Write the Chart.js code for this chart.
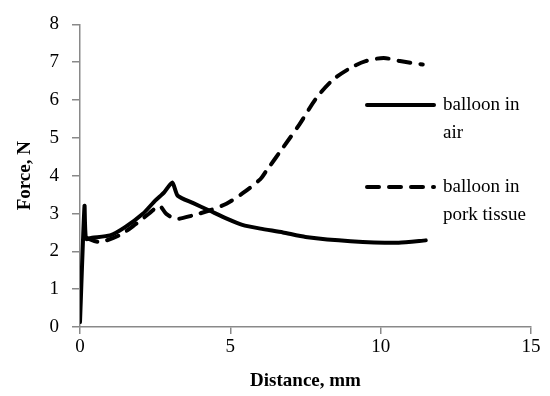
<!DOCTYPE html>
<html lang="en">
<head>
<meta charset="UTF-8">
<title>Force vs Distance</title>
<script src="https://cdn.jsdelivr.net/npm/chart.js"></script>
<style>
    html, body { margin: 0; padding: 0; background: #fff; }
    #wrap { width: 550px; height: 396px; }
</style>
</head>
<body>
<div id="wrap"><canvas id="myChart"></canvas></div>
<script>
// balloon in air
const airX = [0, 0.15, 0.2, 0.4, 1.0, 1.5, 2.1, 2.5, 2.8, 3.07, 3.25, 3.75, 4.3, 4.9, 5.4, 6.0, 6.75, 7.5, 9.0, 10.6, 11.5];
const airY = [0.13, 3.2, 2.33, 2.36, 2.42, 2.64, 3.0, 3.34, 3.56, 3.82, 3.47, 3.28, 3.08, 2.86, 2.7, 2.6, 2.5, 2.38, 2.27, 2.23, 2.29];
// balloon in pork tissue
const porkX = [0.2, 0.64, 1.3, 1.87, 2.3, 2.64, 2.87, 3.2, 3.75, 4.3, 4.87, 5.4, 6.0, 6.2, 6.75, 7.3, 7.87, 8.42, 9.0, 9.5, 10.1, 10.64, 11.4];
const porkY = [2.36, 2.25, 2.42, 2.73, 3.0, 3.2, 2.99, 2.86, 2.95, 3.08, 3.26, 3.53, 3.91, 4.13, 4.74, 5.36, 6.06, 6.54, 6.85, 7.03, 7.11, 7.03, 6.94];
const seriesLabels = [['balloon in', 'air'], ['balloon in', 'pork tissue']];

const toPoints = (xs, ys) => xs.map((x, i) => ({ x: x, y: ys[i] }));
const serif = "'Times New Roman', 'Liberation Serif', 'DejaVu Serif', serif";

// legend drawn at the right, with wrapped labels
const sideLegend = {
    id: 'sideLegend',
    afterDraw(chart) {
        const c = chart.ctx;
        const rows = [105, 187];
        chart.data.datasets.forEach((ds, i) => {
            const y = rows[i];
            c.save();
            c.strokeStyle = ds.borderColor;
            c.lineWidth = ds.borderWidth;
            c.lineCap = 'round';
            c.setLineDash(ds.borderDash || []);
            c.beginPath();
            c.moveTo(367, y);
            c.lineTo(434, y);
            c.stroke();
            c.setLineDash([]);
            c.fillStyle = '#000';
            c.font = '19px ' + serif;
            c.textBaseline = 'middle';
            c.textAlign = 'left';
            ds.label.forEach((t, k) => c.fillText(t, 443, y + k * 28));
            c.restore();
        });
    }
};

let ctx = document.getElementById('myChart').getContext('2d');
let myChart = new Chart(ctx, {
    type: 'line',
    data: {
        datasets: [{
            label: seriesLabels[0],
            data: toPoints(airX, airY),
            borderColor: '#000',
            borderWidth: 4,
            borderCapStyle: 'round',
            borderJoinStyle: 'round',
            pointRadius: 0,
            tension: 0.2
        }, {
            label: seriesLabels[1],
            data: toPoints(porkX, porkY),
            borderColor: '#000',
            borderWidth: 4,
            borderDash: [12, 10],
            borderCapStyle: 'round',
            pointRadius: 0,
            tension: 0.3
        }]
    },
    options: {
        responsive: true,
        maintainAspectRatio: false,
        animation: false,
        layout: { padding: { top: 23, right: 19, left: 0, bottom: 0 } },
        plugins: {
            legend: { display: false },
            tooltip: { enabled: false }
        },
        scales: {
            x: {
                type: 'linear',
                min: 0, max: 15,
                ticks: { stepSize: 5, color: '#000', font: { family: serif, size: 19 }, padding: 2 },
                grid: { drawOnChartArea: false, color: '#898989', tickLength: 7, lineWidth: 1.5 },
                border: { color: '#898989', width: 1.5 },
                title: { display: true, text: 'Distance, mm', color: '#000', font: { family: serif, size: 19, weight: 'bold' }, padding: { top: 0 } },
                afterFit(s) { s.height = 69; }
            },
            y: {
                min: 0, max: 8,
                ticks: { stepSize: 1, color: '#000', font: { family: serif, size: 19 }, padding: 13 },
                grid: { drawOnChartArea: false, color: '#898989', tickLength: 8, lineWidth: 1.5 },
                border: { color: '#898989', width: 1.5 },
                title: { display: true, text: 'Force, N', color: '#000', font: { family: serif, size: 19, weight: 'bold' }, padding: { top: 14, bottom: 0 } },
                afterFit(s) { s.width = 80; }
            }
        }
    },
    plugins: [sideLegend]
});
</script>
</body>
</html>
